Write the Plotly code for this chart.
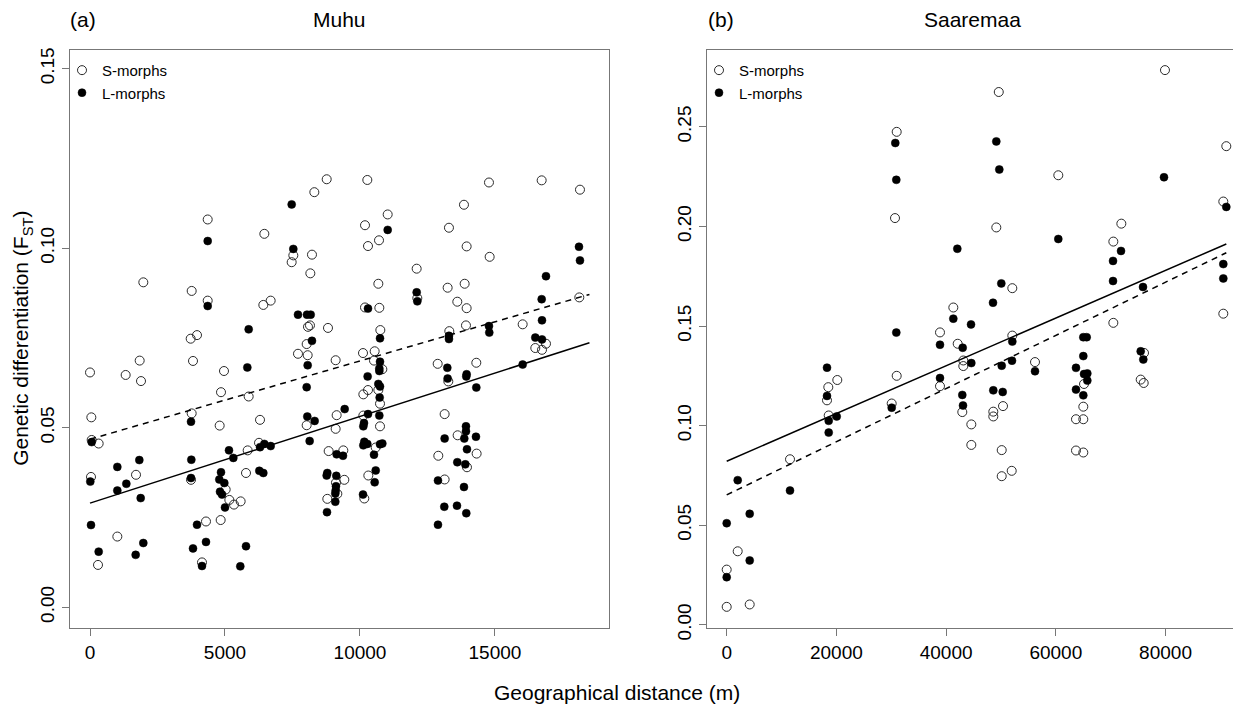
import plotly.graph_objects as go

# ---------------- data ----------------
muhu_s_x = [8767, 8309, 4359, 6457, 7531, 8222, 7470, 8161, 1975, 3766, 4359, 6420, 6692, 8074, 8148,
            8815, 8025, 3729, 3963, 1840, 3815, 7704, 8062, 9099, 0, 1321, 4963, 10272, 14778, 16730,
            18149, 13852, 11026, 10186, 10297, 10705, 13296, 13951, 14803, 12100, 10680, 12124, 13247,
            13877, 13605, 13951, 18124, 10186, 10717, 16026, 10754, 13926, 13309, 16494, 16742, 16890,
            10112, 10544, 10519, 10828, 12878, 14309, 1889, 4852, 5877, 49, 3766, 4803, 6297, 8025,
            9136, 9099, 321, 62, 5840, 6260, 8840, 9383, 1704, 37, 3741, 5025, 5161, 5333, 5580, 5778,
            9111, 9161, 9420, 8790, 1012, 296, 4840, 4296, 4148, 10297, 10124, 10680, 10742, 10124,
            10742, 10582, 10309, 10160, 13272, 13136, 13617, 14321, 12901, 13963, 13136]
muhu_s_y = [0.1192, 0.1156, 0.1080, 0.1040, 0.0980, 0.0982, 0.0961, 0.0930, 0.0905, 0.0881, 0.0854,
            0.0842, 0.0854, 0.0781, 0.0785, 0.0778, 0.0733, 0.0748, 0.0758, 0.0687, 0.0686, 0.0706,
            0.0702, 0.0688, 0.0654, 0.0647, 0.0658, 0.1190, 0.1183, 0.1189, 0.1163, 0.1121, 0.1094,
            0.1064, 0.1006, 0.1022, 0.1057, 0.1005, 0.0976, 0.0943, 0.0901, 0.0861, 0.0890, 0.0901,
            0.0851, 0.0833, 0.0863, 0.0835, 0.0834, 0.0788, 0.0772, 0.0785, 0.0769, 0.0722, 0.0717,
            0.0734, 0.0708, 0.0713, 0.0687, 0.0663, 0.0678, 0.0681, 0.0630, 0.0599, 0.0587, 0.0529,
            0.0540, 0.0506, 0.0522, 0.0507, 0.0535, 0.0497, 0.0456, 0.0466, 0.0437, 0.0458, 0.0435,
            0.0437, 0.0369, 0.0363, 0.0355, 0.0328, 0.0299, 0.0286, 0.0295, 0.0374, 0.0347, 0.0316,
            0.0355, 0.0302, 0.0197, 0.0118, 0.0243, 0.0239, 0.0125, 0.0605, 0.0593, 0.0605, 0.0567,
            0.0534, 0.0504, 0.0445, 0.0367, 0.0303, 0.0629, 0.0538, 0.0479, 0.0428, 0.0422, 0.0390,
            0.0356]

muhu_l_x = [7470, 4359, 7531, 4359, 7704, 8037, 8174, 5877, 8222, 5828, 8062, 11026, 18112, 18149,
            16890, 12100, 12124, 16730, 10297, 16742, 10742, 13296, 13296, 14778, 14790, 16494, 16742,
            10742, 10717, 10717, 13235, 16026, 13951, 8025, 3741, 8049, 8321, 9433, 8136, 62, 5148,
            6297, 6457, 6692, 9136, 9370, 1827, 1012, 3753, 5309, 1346, 1012, 11, 3741, 4852, 4790,
            4975, 4815, 4890, 1877, 5000, 6272, 6420, 8790, 8766, 9123, 9111, 9099, 9086, 9086, 8778,
            37, 321, 1691, 1975, 3963, 4296, 3815, 4148, 5778, 5567, 10284, 10680, 10742, 10729,
            10297, 10717, 10149, 10124, 10160, 10124, 10272, 10742, 10828, 10519, 10582, 10544, 10112,
            13247, 13938, 14309, 13926, 13926, 13864, 14296, 13136, 13963, 13605, 13901, 12889, 13852,
            13123, 13593, 13938, 12889]
muhu_l_y = [0.1122, 0.1020, 0.0998, 0.0839, 0.0815, 0.0815, 0.0815, 0.0774, 0.0742, 0.0668, 0.0674,
            0.1051, 0.1004, 0.0966, 0.0922, 0.0877, 0.0852, 0.0858, 0.0832, 0.0799, 0.0749, 0.0756,
            0.0747, 0.0783, 0.0765, 0.0751, 0.0746, 0.0684, 0.0665, 0.0658, 0.0667, 0.0676, 0.0649,
            0.0613, 0.0517, 0.0531, 0.0519, 0.0552, 0.0463, 0.0460, 0.0437, 0.0446, 0.0455, 0.0449,
            0.0426, 0.0422, 0.0410, 0.0391, 0.0411, 0.0416, 0.0344, 0.0325, 0.0350, 0.0360, 0.0376,
            0.0356, 0.0346, 0.0322, 0.0314, 0.0304, 0.0278, 0.0380, 0.0374, 0.0374, 0.0367, 0.0366,
            0.0337, 0.0325, 0.0317, 0.0294, 0.0265, 0.0229, 0.0155, 0.0146, 0.0179, 0.0230, 0.0182,
            0.0164, 0.0115, 0.0170, 0.0114, 0.0643, 0.0622, 0.0615, 0.0584, 0.0538, 0.0534, 0.0513,
            0.0504, 0.0461, 0.0451, 0.0455, 0.0454, 0.0456, 0.0425, 0.0381, 0.0348, 0.0314, 0.0637,
            0.0643, 0.0612, 0.0504, 0.0490, 0.0470, 0.0475, 0.0470, 0.0440, 0.0404, 0.0398, 0.0353,
            0.0335, 0.0280, 0.0283, 0.0262, 0.0230]

saar_s_x = [30991, 30682, 30991, 18522, 20163, 38884, 18285, 18595, 30080, 11540, 2005, 0, 0, 4193,
            38884, 60452, 49150, 91080, 90533, 71943, 70484, 90533, 70484, 52068, 41314, 42111, 52068,
            43133, 43133, 56205, 65140, 76075, 75474, 76020, 42950, 44596, 44596, 48602, 48602, 50373,
            50136, 50136, 51958, 65011, 63677, 65011, 63677, 65011, 79900, 49600]
saar_s_y = [0.2475, 0.2042, 0.1250, 0.1193, 0.1229, 0.1468, 0.1127, 0.1051, 0.1111, 0.0831, 0.0369,
            0.0277, 0.0090, 0.0102, 0.1198, 0.2257, 0.1995, 0.2403, 0.2125, 0.2014, 0.1924, 0.1562,
            0.1516, 0.1690, 0.1593, 0.1411, 0.1452, 0.1327, 0.1299, 0.1319, 0.1209, 0.1365, 0.1231,
            0.1214, 0.1068, 0.1006, 0.0903, 0.1070, 0.1046, 0.1098, 0.0877, 0.0746, 0.0773, 0.1095,
            0.1032, 0.1032, 0.0875, 0.0865, 0.2785, 0.2675]

saar_l_x = [30736, 30918, 30918, 18285, 38884, 18285, 18595, 20053, 18595, 30080, 11540, 2005, 0, 4193,
            4193, 0, 38884, 49150, 49697, 79720, 91080, 60452, 71888, 70430, 70430, 90533, 90533,
            75893, 42043, 50063, 48547, 41314, 44541, 43023, 52068, 44596, 50136, 52013, 56205, 65011,
            65630, 65011, 63677, 65140, 65740, 65740, 63677, 75474, 75948, 48602, 50318, 42950, 43078,
            65011]
saar_l_y = [0.2419, 0.2234, 0.1467, 0.1291, 0.1406, 0.1149, 0.1024, 0.1046, 0.0965, 0.1090, 0.0674,
            0.0726, 0.0510, 0.0557, 0.0323, 0.0239, 0.1239, 0.2427, 0.2286, 0.2247, 0.2098, 0.1937,
            0.1877, 0.1827, 0.1726, 0.1811, 0.1739, 0.1696, 0.1888, 0.1714, 0.1617, 0.1537, 0.1508,
            0.1391, 0.1422, 0.1314, 0.1301, 0.1326, 0.1273, 0.1444, 0.1444, 0.1349, 0.1290, 0.1259,
            0.1262, 0.1226, 0.1181, 0.1373, 0.1332, 0.1177, 0.1169, 0.1154, 0.1101, 0.1152]

# regression lines (intercept, slope) and x extents
muhu_line_x = [0, 18500]
muhu_s_fit = (0.0468, 2.18e-6)
muhu_l_fit = (0.0290, 2.415e-6)
saar_line_x = [0, 91080]
saar_s_fit = (0.0652, 1.335e-6)
saar_l_fit = (0.0821, 1.198e-6)

muhu_xticks = [0, 5000, 10000, 15000]
muhu_xticktext = ["0", "5000", "10000", "15000"]
muhu_yticks = [0.00, 0.05, 0.10, 0.15]
muhu_yticktext = ["0.00", "0.05", "0.10", "0.15"]
saar_xticks = [0, 20000, 40000, 60000, 80000]
saar_xticktext = ["0", "20000", "40000", "60000", "80000"]
saar_yticks = [0.00, 0.05, 0.10, 0.15, 0.20, 0.25]
saar_yticktext = ["0.00", "0.05", "0.10", "0.15", "0.20", "0.25"]

# ---------------- figure ----------------
W, H = 1233, 724
FONT = "Liberation Sans, Arial, sans-serif"
AX = "#777777"


def fx(px):
    return px / W


def fy(py):
    return 1 - py / H


fig = go.Figure()

open_marker = dict(symbol="circle-open", size=9, color="#2a2a2a", line=dict(width=1, color="#2a2a2a"))
fill_marker = dict(symbol="circle", size=8, color="black", line=dict(width=0.5, color="black"))


def fitline(xs, fit):
    return [fit[0] + fit[1] * v for v in xs]


# Muhu
fig.add_trace(go.Scatter(x=muhu_s_x, y=muhu_s_y, mode="markers", marker=open_marker,
                         name="S-morphs", xaxis="x", yaxis="y", legend="legend"))
fig.add_trace(go.Scatter(x=muhu_l_x, y=muhu_l_y, mode="markers", marker=fill_marker,
                         name="L-morphs", xaxis="x", yaxis="y", legend="legend"))
fig.add_trace(go.Scatter(x=muhu_line_x, y=fitline(muhu_line_x, muhu_s_fit), mode="lines",
                         line=dict(color="black", width=1.5, dash="6px,5px"),
                         showlegend=False, xaxis="x", yaxis="y"))
fig.add_trace(go.Scatter(x=muhu_line_x, y=fitline(muhu_line_x, muhu_l_fit), mode="lines",
                         line=dict(color="black", width=1.5), showlegend=False, xaxis="x", yaxis="y"))

# Saaremaa
fig.add_trace(go.Scatter(x=saar_s_x, y=saar_s_y, mode="markers", marker=open_marker,
                         name="S-morphs", xaxis="x2", yaxis="y2", legend="legend2"))
fig.add_trace(go.Scatter(x=saar_l_x, y=saar_l_y, mode="markers", marker=fill_marker,
                         name="L-morphs", xaxis="x2", yaxis="y2", legend="legend2"))
fig.add_trace(go.Scatter(x=saar_line_x, y=fitline(saar_line_x, saar_s_fit), mode="lines",
                         line=dict(color="black", width=1.5, dash="6px,5px"),
                         showlegend=False, xaxis="x2", yaxis="y2"))
fig.add_trace(go.Scatter(x=saar_line_x, y=fitline(saar_line_x, saar_l_fit), mode="lines",
                         line=dict(color="black", width=1.5), showlegend=False, xaxis="x2", yaxis="y2"))

ydom = [fy(639), fy(49)]
common_x = dict(showgrid=False, zeroline=False, showline=True, linecolor=AX, linewidth=1,
                ticks="outside", ticklen=7, tickcolor=AX, tickfont=dict(size=19, color="black", family=FONT))
common_y = dict(showgrid=False, zeroline=False, showline=True, linecolor=AX, linewidth=1,
                ticks="outside", ticklen=7, tickcolor=AX, tickangle=-90,
                tickfont=dict(size=19, color="black", family=FONT))

fig.update_layout(
    width=W, height=H,
    margin=dict(l=0, r=0, t=0, b=0),
    paper_bgcolor="white", plot_bgcolor="white",
    font=dict(family=FONT, color="black"),
    xaxis=dict(domain=[fx(70), fx(609)], range=[-741, 19224], tickvals=muhu_xticks,
               ticktext=muhu_xticktext, mirror=True, anchor="y", **common_x),
    yaxis=dict(domain=ydom, range=[-0.0057, 0.1552], tickvals=muhu_yticks,
               ticktext=muhu_yticktext, mirror=True, anchor="x", **common_y),
    xaxis2=dict(domain=[fx(707), 1.0], range=[-3591, 92300], tickvals=saar_xticks,
                ticktext=saar_xticktext, mirror=True, anchor="y2", **common_x),
    yaxis2=dict(domain=ydom, range=[-0.0015, 0.2886], tickvals=saar_yticks,
                ticktext=saar_yticktext, mirror=False, anchor="x2", **common_y),
    legend=dict(x=fx(62), y=fy(53), xanchor="left", yanchor="top", bgcolor="rgba(0,0,0,0)",
                font=dict(size=15, family=FONT), tracegroupgap=0, itemwidth=30),
    legend2=dict(x=fx(699), y=fy(53), xanchor="left", yanchor="top", bgcolor="rgba(0,0,0,0)",
                 font=dict(size=15, family=FONT), tracegroupgap=0, itemwidth=30),
    annotations=[
        dict(text="(a)", x=fx(68), y=fy(18), xref="paper", yref="paper", showarrow=False,
             xanchor="left", yanchor="middle", font=dict(size=21, family=FONT)),
        dict(text="Muhu", x=fx(339), y=fy(18), xref="paper", yref="paper", showarrow=False,
             xanchor="center", yanchor="middle", font=dict(size=21, family=FONT)),
        dict(text="(b)", x=fx(706), y=fy(18), xref="paper", yref="paper", showarrow=False,
             xanchor="left", yanchor="middle", font=dict(size=21, family=FONT)),
        dict(text="Saaremaa", x=fx(972), y=fy(18), xref="paper", yref="paper", showarrow=False,
             xanchor="center", yanchor="middle", font=dict(size=21, family=FONT)),
        dict(text="Genetic differentiation (F<sub>ST</sub>)", x=fx(22), y=fy(344), xref="paper",
             yref="paper", showarrow=False, textangle=-90, xanchor="center", yanchor="middle",
             font=dict(size=21, family=FONT)),
        dict(text="Geographical distance (m)", x=fx(617), y=fy(705), xref="paper", yref="paper",
             showarrow=False, xanchor="center", yanchor="middle", font=dict(size=21, family=FONT)),
    ],
)

fig.write_html("out.html")
